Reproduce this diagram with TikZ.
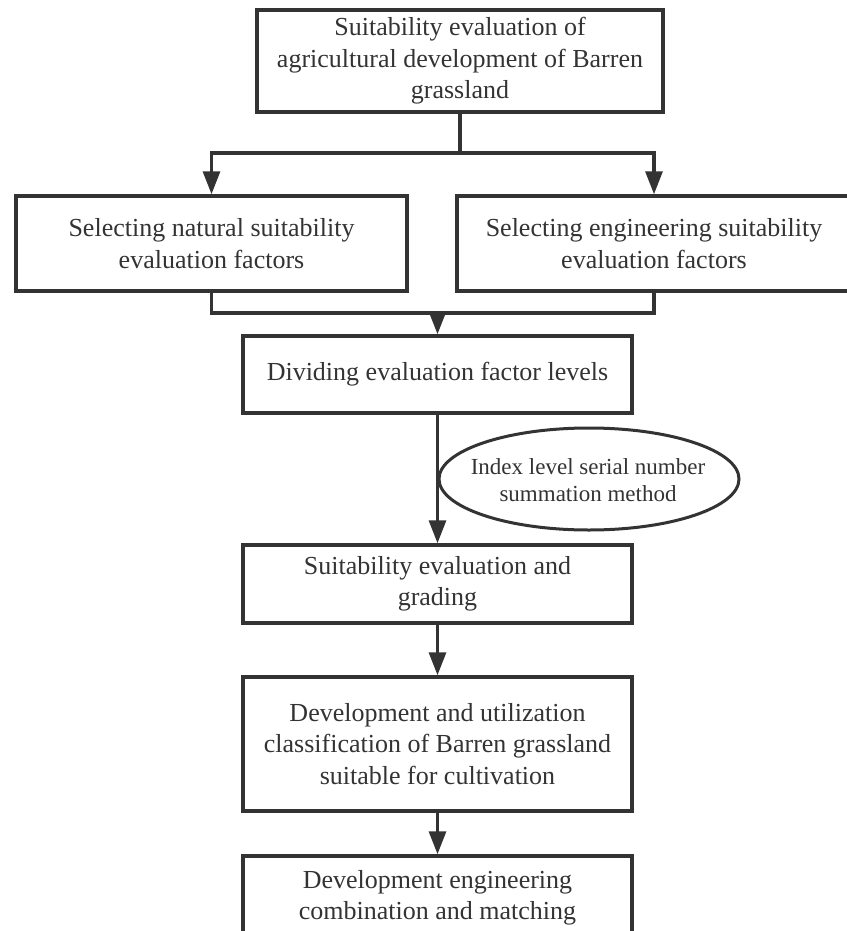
\documentclass[tikz,border=0pt]{standalone}
\usepackage{fontspec}
\setmainfont{Liberation Serif}
\usetikzlibrary{arrows.meta,shapes.geometric}
\definecolor{ink}{HTML}{333333}
\tikzset{
  box/.style={draw=ink, line width=3.5pt, rectangle, inner sep=0pt, align=center,
    text=ink, font=\fontsize{26}{31.5}\selectfont},
  ovaltext/.style={inner sep=0pt, align=center,
    text=ink, font=\fontsize{23}{27.5}\selectfont},
  conn/.style={draw=ink, line width=3.2pt},
  arr/.style={conn, -{Triangle[length=23pt,width=17pt]}}
}
\begin{document}
\begin{tikzpicture}[x=1pt,y=-1pt]
\useasboundingbox (0,0) rectangle (846,931);
\node[box, minimum width=406pt, minimum height=102pt] (top) at (460,61)
  {Suitability evaluation of\\agricultural development of Barren\\grassland};
\node[box, minimum width=391pt, minimum height=95pt] (left) at (211.5,243.5)
  {Selecting natural suitability\\evaluation factors};
\node[box, minimum width=394pt, minimum height=95pt] (right) at (654,243.5)
  {Selecting engineering suitability\\evaluation factors};
\node[box, minimum width=389pt, minimum height=77pt] (divide) at (437.5,374.5)
  {Dividing evaluation factor levels};
\node[ovaltext] (method) at (588,480)
  {Index level serial number\\summation method};
\draw[draw=ink, line width=3pt] (589,479) ellipse [x radius=150pt, y radius=51pt];
\node[box, minimum width=389pt, minimum height=78pt] (suit) at (437.5,584)
  {Suitability evaluation and\\grading};
\node[box, minimum width=389pt, minimum height=134pt] (dev) at (437.5,744)
  {Development and utilization\\classification of Barren grassland\\suitable for cultivation};
\node[box, minimum width=389pt, minimum height=84pt] (last) at (437.5,898)
  {Development engineering\\combination and matching};
\coordinate (bj) at (460,153);
\coordinate (mj) at (437.5,313);
\draw[conn] (top.south) -- (bj);
\draw[arr] (bj) -| (left.north);
\draw[arr] (bj) -| (right.north);
\draw[conn] (left.south) -- (left.south |- mj) -- (right.south |- mj) -- (right.south);
\draw[arr] (mj) -- (divide.north);
\draw[arr] (divide) -- (suit);
\draw[arr] (suit) -- (dev);
\draw[arr] (dev) -- (last);
\end{tikzpicture}
\end{document}
